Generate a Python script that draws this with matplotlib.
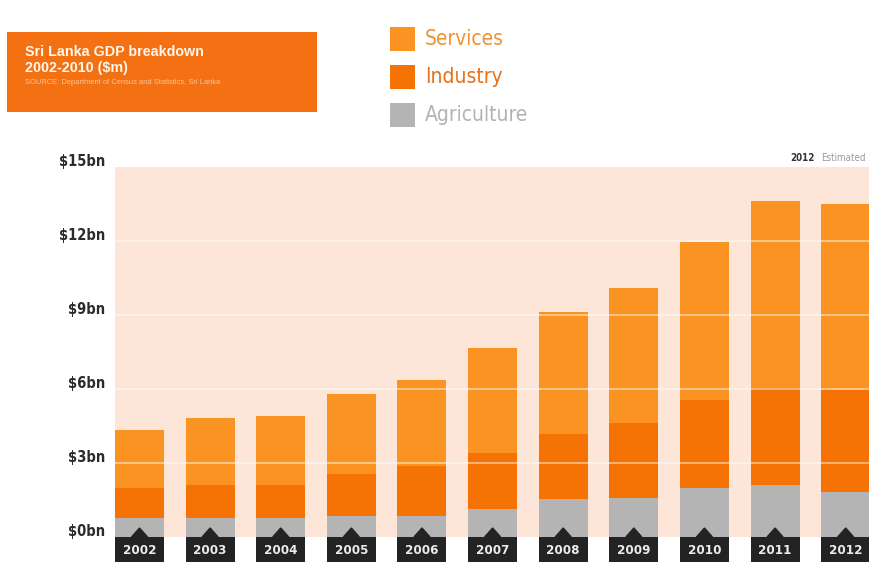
import matplotlib
matplotlib.use("Agg")
import matplotlib.pyplot as plt
import numpy as np
from matplotlib import font_manager
from matplotlib.patches import Polygon, Rectangle
from matplotlib.transforms import ScaledTranslation

# ---- data (US$ bn) ----
years = ["2002", "2003", "2004", "2005", "2006", "2007", "2008", "2009", "2010", "2011", "2012"]
agriculture = [0.78, 0.78, 0.78, 0.85, 0.87, 1.12, 1.53, 1.59, 1.97, 2.11, 1.84]
industry = [1.19, 1.33, 1.33, 1.70, 2.01, 2.30, 2.63, 3.02, 3.58, 3.92, 4.12]
services = [2.37, 2.73, 2.79, 3.25, 3.48, 4.23, 4.97, 5.47, 6.42, 7.60, 7.53]
ytick_vals = [0, 3, 6, 9, 12, 15]
ytick_labels = ["$0bn", "$3bn", "$6bn", "$9bn", "$12bn", "$15bn"]
series_names = ["Services", "Industry", "Agriculture"]

# ---- style ----
C_SERV = "#FB9322"
C_IND = "#F57204"
C_AGR = "#B4B4B4"
C_BG = "#FDE5D8"
C_BOX = "#F47113"
C_DARK = "#232323"

names = {f.name for f in font_manager.fontManager.ttflist}
if "Liberation Sans Narrow" in names:
    COND = dict(family=["Liberation Sans Narrow", "DejaVu Sans"])
else:
    COND = dict(family=["DejaVu Sans"], stretch="condensed")

W, H = 869, 562
fig = plt.figure(figsize=(W / 100, H / 100), dpi=100)
fig.patch.set_facecolor("white")

ax = fig.add_axes([115 / W, 25 / H, 754 / W, 370 / H])
ax.set_facecolor(C_BG)

x = np.arange(len(years))
bw = 0.694
agr = np.array(agriculture)
ind = np.array(industry)
srv = np.array(services)

ax.bar(x, agr, width=bw, color=C_AGR, zorder=2)
ax.bar(x, ind, width=bw, bottom=agr, color=C_IND, zorder=2)
ax.bar(x, srv, width=bw, bottom=agr + ind, color=C_SERV, zorder=2)

ax.set_xlim(-bw / 2, len(years) - 1 + 0.33)
ax.set_ylim(0, 15)

# grid lines drawn on top of bars
for v in ytick_vals[1:-1]:
    ax.axhline(v, color="white", lw=1.3, alpha=0.5, zorder=3)

ax.set_yticks(ytick_vals)
ax.set_yticklabels(ytick_labels, fontsize=10.5, fontweight="bold", color="#2b2b2b", **COND)
ax.tick_params(axis="y", length=0, pad=7)
off = ScaledTranslation(0, 5 / 72, fig.dpi_scale_trans)
for lab in ax.get_yticklabels():
    lab.set_transform(lab.get_transform() + off)
ax.set_xticks([])
for s in ax.spines.values():
    s.set_visible(False)

# year label boxes under the axis
box_h = 26 / (370 / 15)  # data units
ax.bar(x, -box_h, width=bw, bottom=0, color=C_DARK, zorder=5, clip_on=False)
tri_w = 8 / (754 / (len(years) - 1 + 0.33 + bw / 2))
tri_h = 9 / (370 / 15)
for xi, yr in zip(x, years):
    ax.add_patch(Polygon([[xi - tri_w, 0], [xi, tri_h], [xi + tri_w, 0]], closed=True,
                         color=C_DARK, zorder=5, clip_on=False))
    ax.text(xi, -box_h / 2, yr, ha="center", va="center", color="#ececec",
            fontsize=9.5, fontweight="bold", zorder=6, clip_on=False, **COND)

# "2012 Estimated"
ax.text(0.995, 1.01, "Estimated", transform=ax.transAxes, ha="right", va="bottom",
        fontsize=7, color="#9a9a9a", **COND)
ax.text(0.928, 1.01, "2012", transform=ax.transAxes, ha="right", va="bottom",
        fontsize=7, color="#333333", fontweight="bold", **COND)

# title box
fig.patches.append(Rectangle((7 / W, 1 - 112 / H), 310 / W, 80 / H, transform=fig.transFigure,
                             facecolor=C_BOX, edgecolor="none"))
fig.text(25 / W, 1 - 52 / H, "Sri Lanka GDP breakdown", color="#fff6ee", fontsize=10.3,
         fontweight="bold", va="center", ha="left", family="Liberation Sans")
fig.text(25 / W, 1 - 68 / H, "2002-2010 ($m)", color="#fff6ee", fontsize=10.3,
         fontweight="bold", va="center", ha="left", family="Liberation Sans")
fig.text(25 / W, 1 - 82 / H, "SOURCE: Department of Census and Statistics, Sri Lanka",
         color="#fbc49a", fontsize=5.4, va="center", ha="left", family="Liberation Sans")

# legend
leg_cols = [C_SERV, C_IND, C_AGR]
txt_cols = ["#F0922F", "#E8701A", "#B3B3B3"]
leg_tops = [27, 65, 103]
for name, c, tc, t in zip(series_names, leg_cols, txt_cols, leg_tops):
    fig.patches.append(Rectangle((390 / W, 1 - (t + 24) / H), 25 / W, 24 / H,
                                 transform=fig.transFigure, facecolor=c, edgecolor="none"))
    fig.text(425 / W, 1 - (t + 12) / H, name, color=tc, fontsize=15, va="center",
             ha="left", **COND)

fig.savefig("out.png", dpi=100)
